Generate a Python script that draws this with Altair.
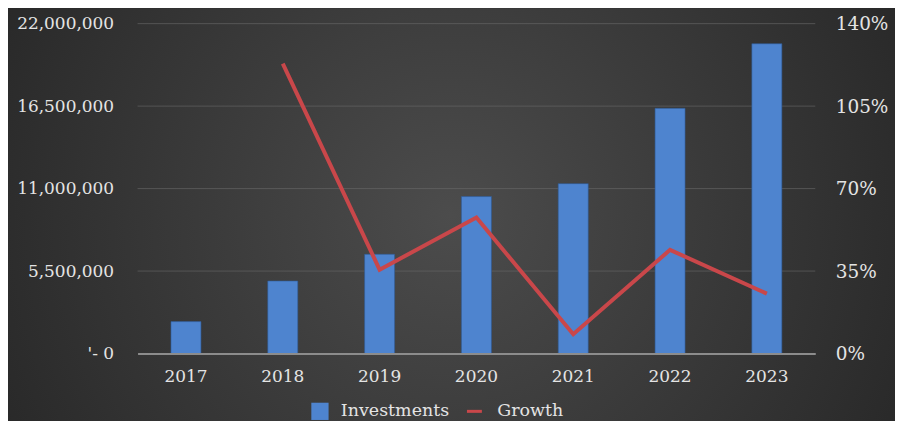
import altair as alt
import pandas as pd

years = ["2017", "2018", "2019", "2020", "2021", "2022", "2023"]
investments = [2130000, 4840000, 6620000, 10470000, 11330000, 16350000, 20660000]
growth = [None, 1.23, 0.356, 0.577, 0.082, 0.44, 0.254]
left_ticks = [0, 5500000, 11000000, 16500000, 22000000]
right_ticks = [0, 0.35, 0.7, 1.05, 1.4]

df = pd.DataFrame({"year": years, "investments": investments, "growth": growth})
df["s1"] = "Investments"
df["s2"] = "Growth"
grid_df = pd.DataFrame({"investments": left_ticks[1:]})

W, H = 680, 331
FONT = "DejaVu Serif"
TXT = "#e4e4e4"

bg_grad = {
    "gradient": "radial",
    "x1": 0.5, "y1": 0.5, "r1": 0,
    "x2": 0.5, "y2": 0.5, "r2": 0.75,
    "stops": [
        {"offset": 0, "color": "#4c4c4c"},
        {"offset": 1, "color": "#1d1d1d"},
    ],
}
bar_grad = {
    "gradient": "linear",
    "x1": 0, "y1": 0, "x2": 0, "y2": 1,
    "stops": [
        {"offset": 0, "color": "#5c8fd6"},
        {"offset": 1, "color": "#4375c0"},
    ],
}

base = alt.Chart(df)

bg = base.mark_rect().encode(
    x=alt.value(-130), x2=alt.value(W + 80),
    y=alt.value(-15), y2=alt.value(H + 70),
    color=alt.value(bg_grad),
)

yscale = alt.Scale(domain=[0, 22000000], nice=False)
yaxis = alt.Axis(values=left_ticks,
                 labelExpr="datum.value == 0 ? \"'- 0\" : format(datum.value, ',')",
                 labelFont=FONT, labelFontSize=17, labelColor=TXT,
                 labelPadding=24, ticks=False, domain=False,
                 grid=False, zindex=2)
yenc = alt.Y("investments:Q", title=None, scale=yscale, axis=yaxis)

xenc = alt.X("year:N", title=None, sort=years,
             scale=alt.Scale(paddingInner=0.69, paddingOuter=0.345),
             axis=alt.Axis(labelAngle=0, labelFont=FONT, labelFontSize=17,
                           labelColor=TXT, labelPadding=15, ticks=False,
                           domainColor="#8c8c8c", domainWidth=2, grid=False,
                           zindex=2))

grid = alt.Chart(grid_df).mark_rule(color="#6a6a6a", strokeWidth=1, opacity=0.6).encode(
    y=yenc,
    x=alt.value(0), x2=alt.value(W),
)

bars = base.mark_bar(color=bar_grad, stroke="#2f5a96", strokeWidth=0.6).encode(
    x=xenc,
    y=yenc,
    fill=alt.Fill("s1:N", title=None,
                  scale=alt.Scale(domain=["Investments"], range=["#4e84cf"]),
                  legend=alt.Legend(orient="none", legendX=174, legendY=380,
                                    symbolType="square", symbolSize=300,
                                    symbolStrokeWidth=0, labelOffset=12,
                                    labelFont=FONT, labelFontSize=17.5,
                                    labelColor=TXT, labelLimit=300)),
)

line = base.mark_line(strokeWidth=4).encode(
    x=xenc,
    y=alt.Y("growth:Q", title=None,
            scale=alt.Scale(domain=[0, 1.4], nice=False),
            axis=alt.Axis(orient="right", values=right_ticks,
                          format=".0%", labelFont=FONT, labelFontSize=18.5,
                          labelColor=TXT, labelPadding=20, ticks=False,
                          domain=False, grid=False, zindex=2)),
    stroke=alt.Stroke("s2:N", title=None,
                      scale=alt.Scale(domain=["Growth"], range=["#c9474a"]),
                      legend=alt.Legend(orient="none", legendX=329, legendY=380,
                                        symbolType="stroke", symbolSize=225,
                                        symbolStrokeWidth=3, labelOffset=14,
                                        labelFont=FONT, labelFontSize=17.5,
                                        labelColor=TXT, labelLimit=300)),
)

left = alt.layer(bg, grid, bars)

chart = alt.layer(left, line).resolve_scale(
    y="independent", fill="independent", stroke="independent"
).properties(
    width=W, height=H,
    autosize=alt.AutoSizeParams(type="none"),
    padding={"left": 130, "top": 15, "right": 80, "bottom": 70},
    background="#1d1d1d",
).configure_view(stroke=None)

chart.save("out.html", embed_options={"renderer": "svg", "actions": False})
